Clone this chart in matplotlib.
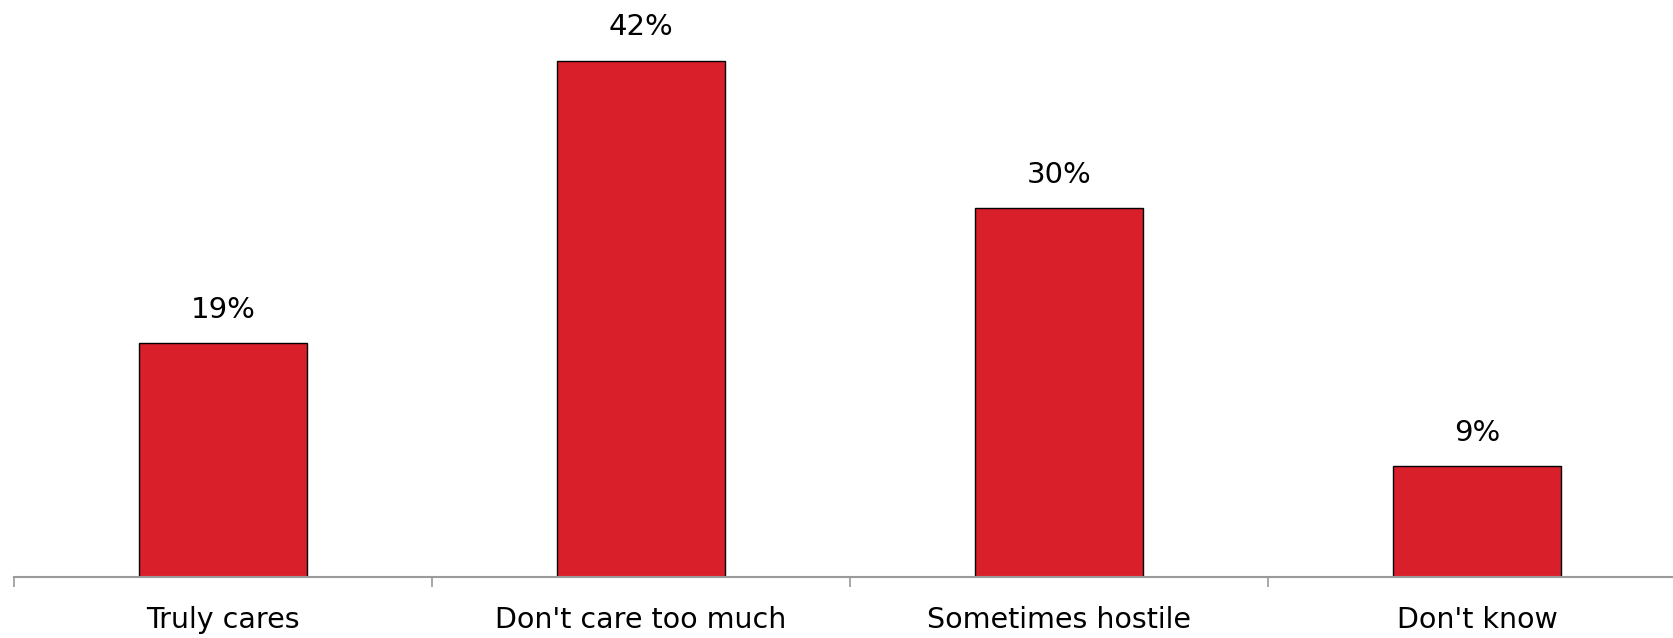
import matplotlib
matplotlib.use("Agg")
import matplotlib.pyplot as plt

categories = ["Truly cares", "Don't care too much", "Sometimes hostile", "Don't know"]
values = [19, 42, 30, 9]
labels = ["19%", "42%", "30%", "9%"]

W, H = 1674, 638
fig = plt.figure(figsize=(W / 100, H / 100), dpi=100)
ax = fig.add_axes([14 / W, 61 / H, 1672 / W, 577 / H])

x = list(range(len(categories)))
bars = ax.bar(x, values, width=0.40, color="#D9202A", edgecolor="black", linewidth=1.0, zorder=2)
ax.set_xlim(-0.5, 3.5)
ax.set_ylim(0, 46.95)

FONT = "DejaVu Sans"
for xi, v, lab in zip(x, values, labels):
    ax.annotate(lab, (xi, v), xytext=(0, 14), textcoords="offset points",
                ha="center", va="bottom", fontsize=21, family=FONT, color="black")

for s in ["top", "right", "left"]:
    ax.spines[s].set_visible(False)
ax.spines["bottom"].set_color("#9a9a9a")
ax.spines["bottom"].set_linewidth(1.5)
ax.set_yticks([])
ax.set_xticks(x)
ax.set_xticklabels(categories, fontsize=20.5, family=FONT, color="black")
ax.tick_params(axis="x", which="major", length=0, pad=21)
ax.set_xticks([-0.5, 0.5, 1.5, 2.5, 3.5], minor=True)
ax.tick_params(axis="x", which="minor", length=7, width=1.2, color="#9a9a9a")

fig.savefig("out.png", dpi=100)
